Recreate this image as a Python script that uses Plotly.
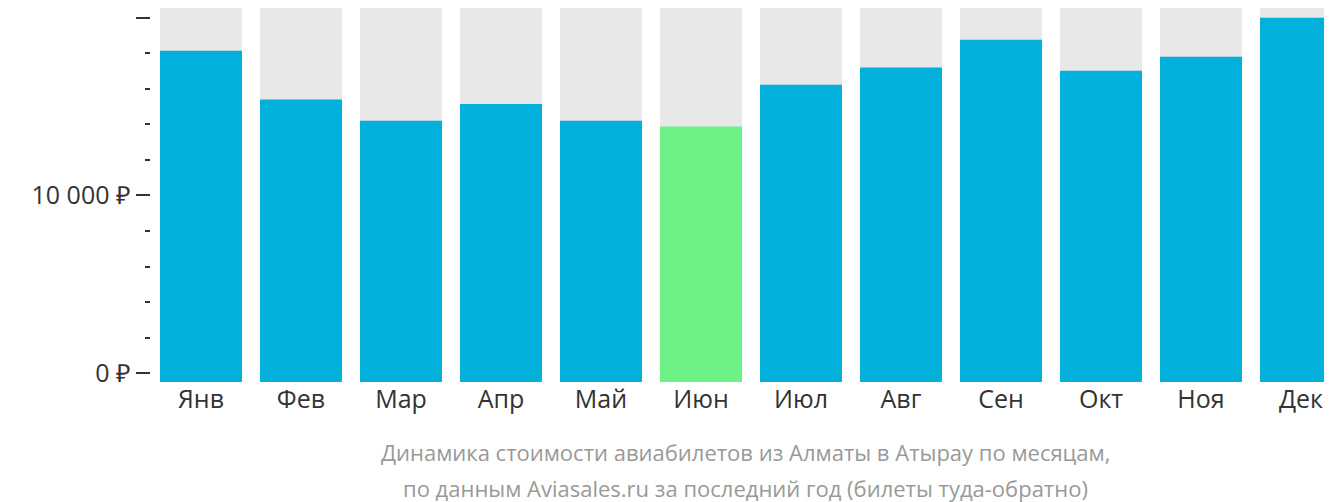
import plotly.graph_objects as go

months = ["Янв","Фев","Мар","Апр","Май","Июн","Июл","Авг","Сен","Окт","Ноя","Дек"]
prices = [18150, 15400, 14200, 15150, 14200, 13880, 16230, 17200, 18770, 17020, 17800, 20000]
bg_max = 20550
base = -500
tickvals = [0, 10000, 20000]
ticktext = ["0 ₽", "10 000 ₽", "20 000 ₽"]

colors = ["#6bf186" if p == min(prices) else "#02b0dc" for p in prices]

fig = go.Figure()
fig.add_bar(x=months, y=[bg_max - base]*len(months), base=base, marker_color="#e8e8e8",
            marker_line_width=0, hoverinfo="skip")
fig.add_bar(x=months, y=[p - base for p in prices], base=base, marker_color=colors,
            marker_line_width=0)
fig.update_layout(
    width=1332, height=502, barmode="overlay", bargap=0.18, showlegend=False,
    plot_bgcolor="white", paper_bgcolor="white",
    margin=dict(l=143, r=0, t=0, b=128),
    font=dict(family="Open Sans", size=25, color="#333"),
    xaxis=dict(range=[-0.5, 11.39], showgrid=False, ticks="", showline=False,
               tickfont=dict(size=25), automargin=False),
    yaxis=dict(range=[base, bg_max], tickvals=tickvals, ticktext=ticktext, showgrid=False,
               zeroline=False, ticks="outside", ticklen=14, tickcolor="#333", tickwidth=2,
               tickfont=dict(size=25), automargin=False,
               minor=dict(dtick=2000, tick0=0, ticks="outside", ticklen=5, tickcolor="#333", tickwidth=2)),
)
fig.add_annotation(text="Динамика стоимости авиабилетов из Алматы в Атырау по месяцам,",
                   xref="paper", yref="paper", x=0.5, y=-70/374, showarrow=False,
                   font=dict(size=22, color="#999"), xanchor="center", yanchor="middle")
fig.add_annotation(text="по данным Aviasales.ru за последний год (билеты туда-обратно)",
                   xref="paper", yref="paper", x=0.5, y=-106/374, showarrow=False,
                   font=dict(size=22, color="#999"), xanchor="center", yanchor="middle")
fig.write_html("out.html")
